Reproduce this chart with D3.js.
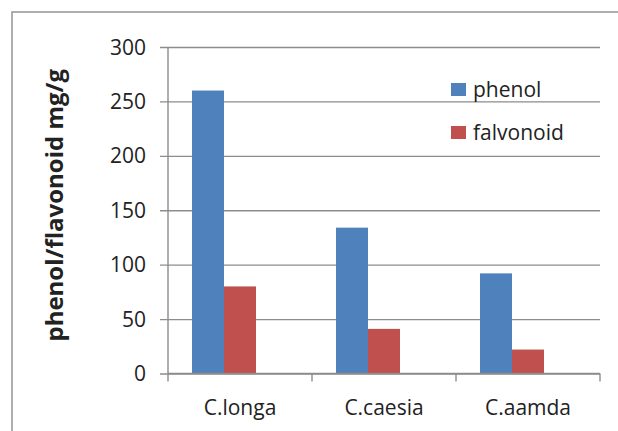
<!DOCTYPE html>
<html>
<head>
<meta charset="utf-8">
<script src="https://cdn.jsdelivr.net/npm/d3@7"></script>
<style>
  html, body { margin: 0; padding: 0; background: #fff; }
  svg { display: block; }
  text { font-family: "Open Sans", "Noto Sans", sans-serif; fill: #222; }
</style>
</head>
<body>
<svg id="chart" width="618" height="431"></svg>
<script>
// Species on the category axis
const categories = ["C.longa", "C.caesia", "C.aamda"];
// Series names (legend order) and values in mg/g
const seriesNames = ["phenol", "falvonoid"];
const phenol = [260, 134, 92];
const falvonoid = [80, 41, 22];
const seriesColors = ["#4F81BD", "#C0504D"];
// Value axis tick labels
const yTicks = [0, 50, 100, 150, 200, 250, 300];
const yTitle = "phenol/flavonoid mg/g";

const seriesValues = [phenol, falvonoid];

const W = 618, H = 431;
const margin = { top: 47, right: 18, bottom: 57.5, left: 168 };
const innerW = W - margin.left - margin.right;
const innerH = H - margin.top - margin.bottom;

const svg = d3.select("#chart");

// Chart area frame (runs off the right and bottom edges)
svg.append("rect")
  .attr("x", 12).attr("y", 12)
  .attr("width", W).attr("height", H)
  .attr("fill", "#fff")
  .attr("stroke", "#a6a6a6")
  .attr("stroke-width", 1.8);

const g = svg.append("g").attr("transform", `translate(${margin.left},${margin.top})`);

const x0 = d3.scaleBand().domain(categories).range([0, innerW]).paddingInner(0).paddingOuter(0);
// Three slots per cluster with a 150% gap; only the first two carry data
const slotKeys = seriesNames.concat(["_"]);
const x1 = d3.scaleBand().domain(slotKeys)
  .range([0, x0.bandwidth()])
  .paddingInner(0).paddingOuter(0.75);
const y = d3.scaleLinear().domain([0, 300]).range([innerH, 0]);

// Horizontal gridlines with left ticks
const yAxis = d3.axisLeft(y).tickValues(yTicks).tickSize(8).tickPadding(14);
const yG = g.append("g").call(yAxis);
yG.select(".domain").remove();
yG.selectAll(".tick line")
  .attr("x1", -8).attr("x2", innerW)
  .attr("stroke", "#8c8c8c").attr("stroke-width", 1.4);
yG.selectAll(".tick text")
  .attr("font-size", 21)
  .attr("font-family", "'Open Sans', sans-serif")
  .attr("fill", "#222")
  .attr("dy", "0.34em");

// Vertical value axis line
g.append("line")
  .attr("x1", 0).attr("x2", 0)
  .attr("y1", y(300)).attr("y2", innerH)
  .attr("stroke", "#8c8c8c").attr("stroke-width", 1.4);

// Bars
const clusters = g.selectAll(".cluster")
  .data(categories)
  .join("g")
  .attr("class", "cluster")
  .attr("transform", d => `translate(${x0(d)},0)`);

clusters.selectAll("rect")
  .data((c, i) => seriesNames.map((s, k) => ({ s, v: seriesValues[k][i], color: seriesColors[k] })))
  .join("rect")
  .attr("x", d => x1(d.s))
  .attr("width", x1.bandwidth())
  .attr("y", d => y(d.v))
  .attr("height", d => innerH - y(d.v))
  .attr("fill", d => d.color);

// Category axis: baseline and boundary ticks
const xG = g.append("g").attr("transform", `translate(0,${innerH})`);
xG.append("line")
  .attr("x1", 0).attr("x2", innerW)
  .attr("stroke", "#8c8c8c").attr("stroke-width", 1.4);
const bounds = categories.map(c => x0(c)).concat([innerW]);
xG.selectAll(".btick")
  .data(bounds)
  .join("line")
  .attr("class", "btick")
  .attr("x1", d => d).attr("x2", d => d)
  .attr("y1", 0).attr("y2", 8)
  .attr("stroke", "#8c8c8c").attr("stroke-width", 1.4);
xG.selectAll(".clabel")
  .data(categories)
  .join("text")
  .attr("class", "clabel")
  .attr("x", d => x0(d) + x0.bandwidth() / 2)
  .attr("y", 41.5)
  .attr("text-anchor", "middle")
  .attr("font-size", 21)
  .text(d => d);

// Value axis title
svg.append("text")
  .attr("transform", `translate(63,${margin.top + innerH / 2 - 5}) rotate(-90)`)
  .attr("text-anchor", "middle")
  .attr("font-size", 24)
  .attr("font-weight", "bold")
  .attr("fill", "#111")
  .text(yTitle);

// Legend
const legend = svg.append("g").attr("transform", "translate(451,83)");
const items = legend.selectAll("g")
  .data(seriesNames)
  .join("g")
  .attr("transform", (d, i) => `translate(0,${i * 43})`);
items.append("rect")
  .attr("width", 15).attr("height", 13)
  .attr("fill", (d, i) => seriesColors[i]);
items.append("text")
  .attr("x", 22).attr("y", 14)
  .attr("font-size", 21)
  .text(d => d);
</script>
</body>
</html>
